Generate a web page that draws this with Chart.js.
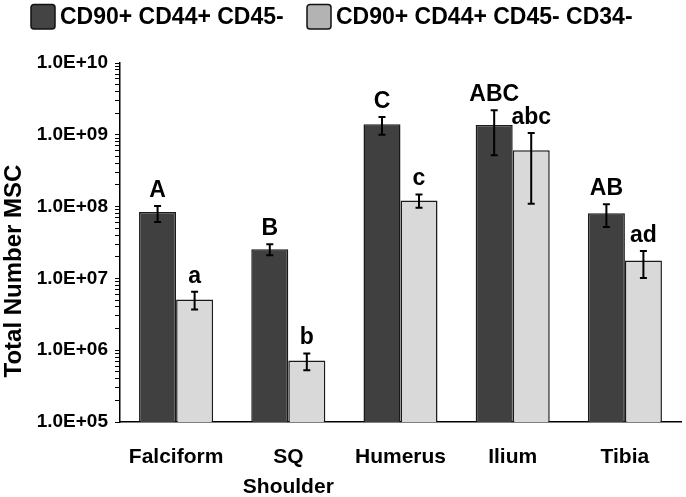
<!DOCTYPE html>
<html>
<head>
<meta charset="utf-8">
<script src="https://cdn.jsdelivr.net/npm/chart.js@4.4.1/dist/chart.umd.min.js"></script>
<style>
  html, body { margin: 0; padding: 0; background: #fff; }
  #wrap { width: 686px; height: 497px; position: relative; }
</style>
</head>
<body>
<div id="wrap"><canvas id="msc-chart"></canvas></div>
<script>
Chart.defaults.font.family = "'Liberation Sans', Arial, sans-serif"
Chart.defaults.font.weight = 'bold'
Chart.defaults.color = '#000'

const categories = ['Falciform', ['SQ', 'Shoulder'], 'Humerus', 'Ilium', 'Tibia']
const seriesNames = ['CD90+ CD44+ CD45-', 'CD90+ CD44+ CD45- CD34-']

// CD90+ CD44+ CD45-
const cd45Values = [8.4e7, 2.55e7, 1.4e9, 1.37e9, 8.1e7]
const cd45ErrHigh = [1.02e8, 3.0e7, 1.77e9, 2.19e9, 1.08e8]
const cd45ErrLow = [6.1e7, 2.1e7, 1.0e9, 5.2e8, 5.2e7]
const cd45Letters = ['A', 'B', 'C', 'ABC', 'AB']

// CD90+ CD44+ CD45- CD34-
const cd34Values = [5.1e6, 7.2e5, 1.22e8, 6.1e8, 1.77e7]
const cd34ErrHigh = [6.5e6, 9.0e5, 1.48e8, 1.06e9, 2.41e7]
const cd34ErrLow = [3.7e6, 5.25e5, 9.6e7, 1.1e8, 1.01e7]
const cd34Letters = ['a', 'b', 'c', 'abc', 'ad']

const yDecades = [1e5, 1e6, 1e7, 1e8, 1e9, 1e10]
const yTickLabels = ['1.0E+05', '1.0E+06', '1.0E+07', '1.0E+08', '1.0E+09', '1.0E+10']
const yTitle = 'Total Number MSC'

const barColors = ['#404040', '#d9d9d9']
const legendColors = ['#444444', '#b3b3b3']

// error bars, significance letters, legend and rotated axis title
const annotate = {
  id: 'annotate',
  afterDatasetsDraw (chart) {
    const ctx = chart.ctx
    const y = chart.scales.y
    ctx.save()
    chart.data.datasets.forEach((ds, di) => {
      chart.getDatasetMeta(di).data.forEach((bar, i) => {
        const hi = y.getPixelForValue(ds.errHigh[i])
        const lo = y.getPixelForValue(ds.errLow[i])
        ctx.strokeStyle = '#000'
        ctx.lineWidth = 2
        ctx.beginPath()
        ctx.moveTo(bar.x, hi); ctx.lineTo(bar.x, lo)
        ctx.moveTo(bar.x - 3.5, hi); ctx.lineTo(bar.x + 3.5, hi)
        ctx.moveTo(bar.x - 3.5, lo); ctx.lineTo(bar.x + 3.5, lo)
        ctx.stroke()
        ctx.fillStyle = '#000'
        ctx.font = "bold 23px 'Liberation Sans', Arial, sans-serif"
        ctx.textAlign = 'center'
        ctx.textBaseline = 'alphabetic'
        ctx.fillText(ds.letters[i], bar.x, hi - 9)
      })
    })
    ctx.restore()
  },
  afterDraw (chart) {
    const ctx = chart.ctx
    ctx.save()
    // legend
    const boxX = [31, 307]
    ctx.font = "bold 23px 'Liberation Sans', Arial, sans-serif"
    ctx.textAlign = 'left'
    ctx.textBaseline = 'middle'
    chart.data.datasets.forEach((ds, di) => {
      ctx.fillStyle = legendColors[di]
      ctx.strokeStyle = '#111'
      ctx.lineWidth = 1.5
      ctx.beginPath()
      ctx.roundRect(boxX[di], 4.5, 24, 24.5, 3)
      ctx.fill()
      ctx.stroke()
      ctx.fillStyle = '#000'
      ctx.fillText(ds.label, boxX[di] + 29, 18)
    })
    // y axis title
    ctx.translate(21, 271)
    ctx.rotate(-Math.PI / 2)
    ctx.textAlign = 'center'
    ctx.textBaseline = 'alphabetic'
    ctx.font = "bold 24px 'Liberation Sans', Arial, sans-serif"
    ctx.fillText(yTitle, 0, 0)
    ctx.restore()
  }
}

const ctx = document.getElementById('msc-chart')

const chart = new Chart(ctx, {
  type: 'bar',
  data: {
    labels: categories,
    datasets: [
      {
        label: seriesNames[0],
        data: cd45Values,
        errHigh: cd45ErrHigh,
        errLow: cd45ErrLow,
        letters: cd45Letters,
        backgroundColor: barColors[0],
        borderColor: '#1a1a1a',
        borderWidth: 1.5
      },
      {
        label: seriesNames[1],
        data: cd34Values,
        errHigh: cd34ErrHigh,
        errLow: cd34ErrLow,
        letters: cd34Letters,
        backgroundColor: barColors[1],
        borderColor: '#1a1a1a',
        borderWidth: 1.5
      }
    ]
  },
  options: {
    responsive: true,
    maintainAspectRatio: false,
    animation: false,
    categoryPercentage: 0.66,
    barPercentage: 1,
    layout: { padding: { left: 0, right: 5, top: 63, bottom: 0 } },
    plugins: {
      legend: { display: false },
      tooltip: { enabled: false }
    },
    scales: {
      x: {
        grid: { display: false, drawTicks: false },
        border: { display: true, color: '#000', width: 1.5 },
        ticks: {
          padding: 20,
          maxRotation: 0,
          font: { size: 21, weight: 'bold', lineHeight: 1.45 }
        },
        afterFit: (scale) => { scale.height = 75 }
      },
      y: {
        type: 'logarithmic',
        min: yDecades[0],
        max: yDecades[yDecades.length - 1],
        grid: { drawOnChartArea: false, drawTicks: true, tickLength: 5, color: '#000', lineWidth: 1 },
        border: { display: true, color: '#000', width: 1.5 },
        ticks: {
          autoSkip: false,
          padding: 7,
          font: { size: 19, weight: 'bold' },
          callback: (v) => {
            const i = yDecades.indexOf(v)
            return i >= 0 ? yTickLabels[i] : ''
          }
        },
        afterBuildTicks: (scale) => {
          const ticks = []
          yDecades.forEach((d, i) => {
            ticks.push({ value: d, major: true })
            if (i < yDecades.length - 1) {
              for (let k = 2; k <= 9; k++) ticks.push({ value: d * k, major: false })
            }
          })
          scale.ticks = ticks
        },
        afterFit: (scale) => { scale.width = 120 }
      }
    }
  },
  plugins: [annotate]
})
</script>
</body>
</html>
